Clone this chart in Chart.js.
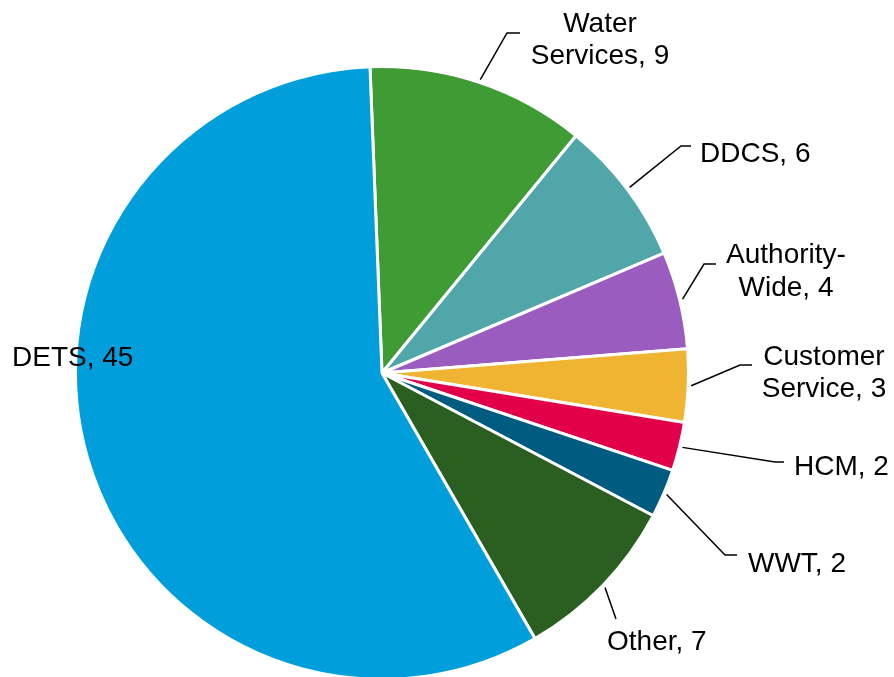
<!DOCTYPE html>
<html>
<head>
<meta charset="utf-8">
<title>Count by group</title>
<script src="https://cdn.jsdelivr.net/npm/chart.js@4.4.1/dist/chart.umd.min.js"></script>
<style>
    html, body { margin: 0; padding: 0; background: #ffffff; overflow: hidden; }
    #wrap { width: 894px; height: 677px; overflow: hidden; }
</style>
</head>
<body>
<div id="wrap"><canvas id="pieChart" width="894" height="690"></canvas></div>
<script>
// Slices, clockwise from the top
const categories = ['Water Services', 'DDCS', 'Authority-Wide', 'Customer Service', 'HCM', 'WWT', 'Other', 'DETS'];
const counts = [9, 6, 4, 3, 2, 2, 7, 45];
const sliceColors = ['#3f9c35', '#50a6a8', '#9b5cbf', '#f0b433', '#e3004a', '#005b80', '#2a5f21', '#009edb'];

// Where each data label sits: elbow/end of the leader line, text anchor, baselines
// breakAt splits the label text onto two lines
const labelLayout = [
    { elbow: [507, 33],  end: [520, 33],  x: 600, align: 'center', baselines: [32, 64],   breakAt: 6 },
    { elbow: [681, 146], end: [691, 146], x: 700, align: 'left',   baselines: [162] },
    { elbow: [704, 264], end: [716, 264], x: 786, align: 'center', baselines: [263, 296], breakAt: 10 },
    { elbow: [740, 365], end: [752, 365], x: 824, align: 'center', baselines: [365, 397], breakAt: 9 },
    { elbow: [775, 462], end: [784, 462], x: 794, align: 'left',   baselines: [475] },
    { elbow: [725, 555], end: [737, 555], x: 748, align: 'left',   baselines: [572] },
    { elbow: null,       end: [616, 619], x: 607, align: 'left',   baselines: [650] },
    { elbow: null,       end: null,       x: 12,  align: 'left',   baselines: [366] }
];

function labelLines(i) {
    const text = categories[i] + ', ' + counts[i];
    const n = labelLayout[i].breakAt;
    if (!n) return [text];
    return [text.slice(0, n).trimEnd(), text.slice(n)];
}

// Draws "Name, value" labels with leader lines from each slice's middle
const pieLabels = {
    id: 'pieLabels',
    afterDraw(chart) {
        const ctx = chart.ctx;
        const arcs = chart.getDatasetMeta(0).data;
        ctx.save();
        ctx.font = '28px "Liberation Sans", Arial, sans-serif';
        ctx.fillStyle = '#000000';
        ctx.strokeStyle = '#000000';
        ctx.lineWidth = 1.5;
        ctx.textBaseline = 'alphabetic';
        arcs.forEach((arc, i) => {
            const lay = labelLayout[i];
            if (lay.end) {
                const p = arc.getProps(['x', 'y', 'startAngle', 'endAngle', 'outerRadius'], true);
                const mid = (p.startAngle + p.endAngle) / 2;
                const r = p.outerRadius + 3;
                ctx.beginPath();
                ctx.moveTo(p.x + Math.cos(mid) * r, p.y + Math.sin(mid) * r);
                if (lay.elbow) ctx.lineTo(lay.elbow[0], lay.elbow[1]);
                ctx.lineTo(lay.end[0], lay.end[1]);
                ctx.stroke();
            }
            ctx.textAlign = lay.align;
            labelLines(i).forEach((line, k) => {
                ctx.fillText(line, lay.x, lay.baselines[k]);
            });
        });
        ctx.restore();
    }
};

new Chart(document.getElementById('pieChart').getContext('2d'), {
    type: 'pie',
    data: {
        labels: categories,
        datasets: [{
            data: counts,
            backgroundColor: sliceColors,
            borderColor: '#ffffff',
            borderWidth: 3
        }]
    },
    options: {
        responsive: false,
        animation: false,
        rotation: -2.25,
        layout: { padding: { left: 74, right: 204, top: 65, bottom: 9 } },
        plugins: {
            legend: { display: false },
            tooltip: { enabled: false }
        }
    },
    plugins: [pieLabels]
});
</script>
</body>
</html>
